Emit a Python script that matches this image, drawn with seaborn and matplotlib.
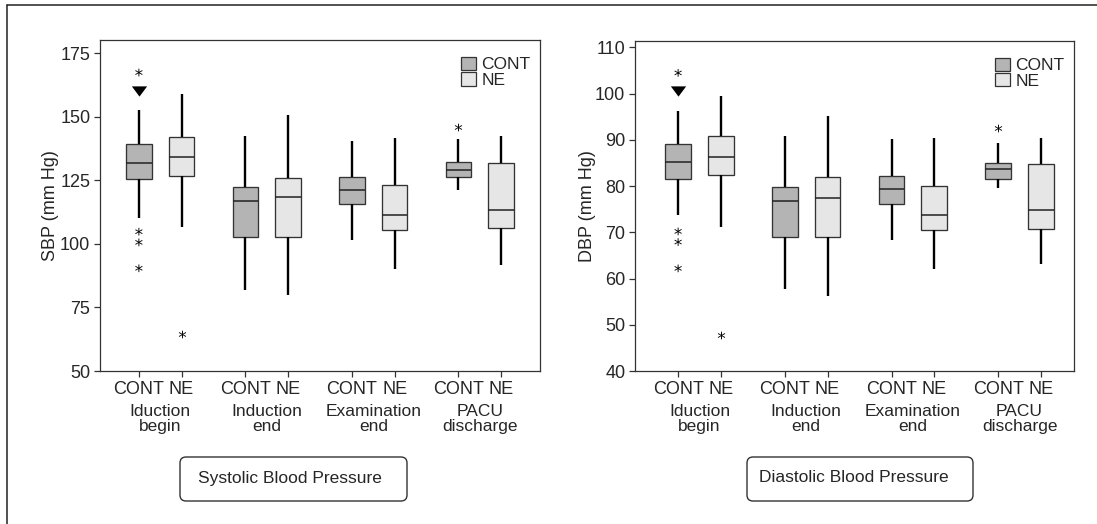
import pandas as pd
import matplotlib
matplotlib.use("Agg")
import matplotlib.pyplot as plt
import seaborn as sns
from matplotlib.patches import Patch, FancyBboxPatch
from matplotlib.lines import Line2D
from matplotlib.path import Path as MPath

sns.set_theme(style="ticks")
plt.rcParams["font.family"] = ["Liberation Sans", "DejaVu Sans"]
plt.rcParams["font.size"] = 12

timepoints = ["Iduction\nbegin", "Induction\nend", "Examination\nend", "PACU\ndischarge"]
groups = ["CONT", "NE"]
PALETTE = {"CONT": "#b4b4b4", "NE": "#e6e6e6"}

# five-number summaries: [whisker low, Q1, median, Q3, whisker high]
sbp_cont = [[110.3, 125.6, 131.9, 139.4, 152.7],
            [81.8, 102.8, 117.0, 122.2, 142.4],
            [101.6, 115.8, 121.2, 126.4, 140.5],
            [121.2, 126.2, 129.0, 132.3, 141.3]]
sbp_ne = [[106.5, 126.8, 134.3, 142.2, 158.8],
          [79.8, 102.9, 118.3, 125.8, 150.7],
          [90.2, 105.5, 111.2, 123.3, 141.5],
          [91.6, 106.3, 113.3, 131.8, 142.4]]
sbp_stars = [("Iduction\nbegin", "CONT", 167.4),
             ("Iduction\nbegin", "CONT", 104.8),
             ("Iduction\nbegin", "CONT", 100.6),
             ("Iduction\nbegin", "CONT", 90.4),
             ("Iduction\nbegin", "NE", 64.6),
             ("PACU\ndischarge", "CONT", 145.9)]
sbp_triangle = [("Iduction\nbegin", "CONT", 160.3)]

dbp_cont = [[73.7, 81.6, 85.2, 89.1, 96.2],
            [57.8, 69.1, 76.8, 79.8, 90.8],
            [68.3, 76.2, 79.3, 82.1, 90.2],
            [79.7, 81.6, 83.6, 85.1, 89.4]]
dbp_ne = [[71.2, 82.3, 86.3, 90.8, 99.5],
          [56.2, 68.9, 77.5, 81.9, 95.1],
          [62.1, 70.6, 73.8, 80.0, 90.5],
          [63.1, 70.7, 74.8, 84.7, 90.5]]
dbp_stars = [("Iduction\nbegin", "CONT", 104.5),
             ("Iduction\nbegin", "CONT", 70.2),
             ("Iduction\nbegin", "CONT", 67.9),
             ("Iduction\nbegin", "CONT", 62.2),
             ("Iduction\nbegin", "NE", 47.8),
             ("PACU\ndischarge", "CONT", 92.6)]
dbp_triangle = [("Iduction\nbegin", "CONT", 100.6)]

TRIANGLE = MPath([(-1, 0.67), (1, 0.67), (0, -0.67), (-1, 0.67)])


def long_frame(cont, ne):
    rows = []
    for i, t in enumerate(timepoints):
        for g, summ in zip(groups, (cont[i], ne[i])):
            for v in summ:
                rows.append({"Time": t, "Group": g, "value": v})
    return pd.DataFrame(rows)


def points_frame(pts):
    return pd.DataFrame(pts, columns=["Time", "Group", "value"])


def draw_panel(ax, cont, ne, stars, tri, ylabel, ylim, yticks, xlim, labelpad):
    df = long_frame(cont, ne)
    sns.boxplot(data=df, x="Time", y="value", hue="Group", order=timepoints,
                hue_order=groups, palette=PALETTE, saturation=1, whis=(0, 100),
                width=0.8, gap=0.4, linecolor="#333333", linewidth=0.95,
                showcaps=False, showfliers=False, legend=False, ax=ax,
                whiskerprops={"color": "black", "linewidth": 1.7},
                medianprops={"color": "#222222", "linewidth": 1.1})
    sns.stripplot(data=points_frame(stars), x="Time", y="value", hue="Group",
                  order=timepoints, hue_order=groups, dodge=True, jitter=False,
                  palette={"CONT": "black", "NE": "black"}, marker="$*$",
                  size=5.5, linewidth=0, legend=False, ax=ax)
    sns.stripplot(data=points_frame(tri), x="Time", y="value", hue="Group",
                  order=timepoints, hue_order=groups, dodge=True, jitter=False,
                  palette={"CONT": "black", "NE": "black"}, marker=TRIANGLE,
                  size=11, linewidth=0, legend=False, ax=ax)

    ax.set_xlim(*xlim)
    ax.set_ylim(*ylim)
    ax.set_yticks(yticks)
    ticks = []
    for i in range(len(timepoints)):
        ticks += [i - 0.2, i + 0.2]
    ax.set_xticks(ticks)
    ax.set_xticklabels(groups * len(timepoints))
    ax.set_xlabel("")
    ax.set_ylabel(ylabel, fontsize=13, labelpad=labelpad)
    ax.tick_params(axis="both", labelsize=13, length=4, width=0.9, color="#333333", pad=3)
    for sp in ax.spines.values():
        sp.set_visible(True)
        sp.set_color("#333333")
        sp.set_linewidth(0.9)
    for i, t in enumerate(timepoints):
        ax.text(i, -0.1, t, transform=ax.get_xaxis_transform(), ha="center", va="top",
                fontsize=12.5, linespacing=1.0)

    handles = [Patch(facecolor=PALETTE[g], edgecolor="#333333", linewidth=0.9, label=g) for g in groups]
    ax.legend(handles=handles, loc="upper right", bbox_to_anchor=(0.978, 0.95),
              frameon=False, fontsize=12.5, handlelength=0.85, handleheight=0.8,
              handletextpad=0.3, labelspacing=0.0, borderaxespad=0, borderpad=0)


fig = plt.figure(figsize=(10.97, 5.24), dpi=100)
ax1 = fig.add_axes([100 / 1097, 153 / 524, 440 / 1097, 331 / 524])
ax2 = fig.add_axes([635 / 1097, 153 / 524, 439 / 1097, 330 / 524])

draw_panel(ax1, sbp_cont, sbp_ne, sbp_stars, sbp_triangle, "SBP (mm Hg)",
           (50, 180.2), [50, 75, 100, 125, 150, 175], (-0.565, 3.565), 1)
draw_panel(ax2, dbp_cont, dbp_ne, dbp_stars, dbp_triangle, "DBP (mm Hg)",
           (40, 111.4), [40, 50, 60, 70, 80, 90, 100, 110], (-0.604, 3.51), -1)

# outer frame (left and top edges only)
fig.add_artist(Line2D([0.07, 0.07], [0, 5.19], transform=fig.dpi_scale_trans, color="#222222", lw=1.1))
fig.add_artist(Line2D([0.07, 10.97], [5.19, 5.19], transform=fig.dpi_scale_trans, color="#222222", lw=1.1))

# caption boxes
for x0, w, tx, label in [(1.80, 2.27, 1.98, "Systolic Blood Pressure"),
                         (7.47, 2.26, 7.59, "Diastolic Blood Pressure")]:
    fig.add_artist(FancyBboxPatch((x0, 0.23), w, 0.44, boxstyle="round,pad=0,rounding_size=0.06",
                                  transform=fig.dpi_scale_trans, facecolor="white",
                                  edgecolor="#333333", linewidth=1.0))
    fig.text(tx, 0.46, label, transform=fig.dpi_scale_trans, ha="left", va="center", fontsize=12.5)

fig.savefig("out.png", dpi=100)
